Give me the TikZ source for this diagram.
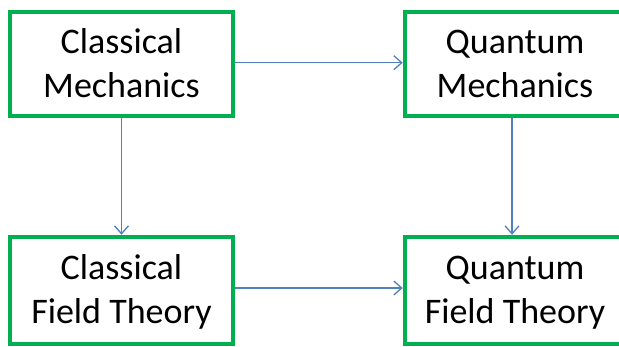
\documentclass[tikz,border=0pt]{standalone}
\usepackage{fontspec}
\setmainfont{Carlito}
\usetikzlibrary{arrows.meta}
\definecolor{boxgreen}{RGB}{0,176,80}
\definecolor{linkblue}{RGB}{79,129,189}
% fixed-height first line and fixed-depth last line keep baselines in place
\newcommand{\toprow}{\rule{0pt}{30pt}}
\newcommand{\lastrow}{\rule[-8pt]{0pt}{8pt}}
\begin{document}
\begin{tikzpicture}[x=1pt,y=-1pt,
  topic/.style={draw=boxgreen, line width=4.5pt, fill=white, align=center,
    font=\fontsize{36}{44}\selectfont, inner sep=0pt},
  link/.style={draw=linkblue, line width=1.3pt,
    -{Straight Barb[length=8pt,width=14pt,line width=1.3pt]}}]
\useasboundingbox (0,0) rectangle (619,346);
% the four theories
\node[topic, minimum width=223pt, minimum height=104pt] (cm)  at (121.5,64)    {\toprow Classical\\Mechanics\lastrow};
\node[topic, minimum width=220pt, minimum height=104pt] (qm)  at (515,64)      {\toprow Quantum\\Mechanics\lastrow};
\node[topic, minimum width=223pt, minimum height=107pt] (cft) at (121.5,290.5) {\toprow Classical\\Field Theory\lastrow};
\node[topic, minimum width=220pt, minimum height=107pt] (qft) at (515,290.5)   {\toprow Quantum\\Field Theory\lastrow};
% quantisation and field extensions
\draw[link] ([yshift=1.3pt]cm.east) -- ([yshift=1.3pt]qm.west);
\draw[link] ([yshift=2.5pt]cft.east) -- ([yshift=2.5pt]qft.west);
\draw[link] (cm.south) -- (cft.north);
\draw[link] ([xshift=-3pt]qm.south) -- ([xshift=-3pt]qft.north);
\end{tikzpicture}
\end{document}
